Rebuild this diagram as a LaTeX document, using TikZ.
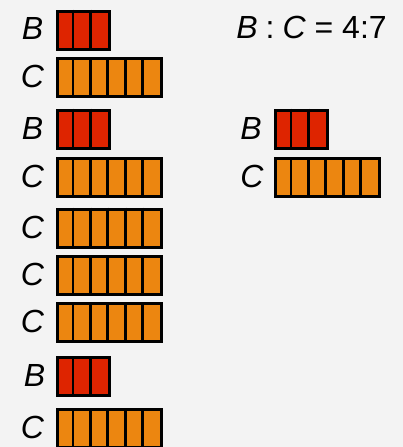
\documentclass[tikz,border=0pt]{standalone}
\usepackage{fontspec}
\setmainfont{Liberation Sans}
\usetikzlibrary{calc}
\definecolor{bg}{RGB}{243,243,243}
\definecolor{bred}{RGB}{222,36,0}
\definecolor{corange}{RGB}{236,134,16}
\tikzset{
  lab/.style={font=\fontsize{32}{32}\selectfont\itshape, inner sep=0pt},
  ratio/.style={font=\fontsize{32}{32}\selectfont, inner sep=0pt},
  outline/.style={line width=3.2pt, draw=black},
  divider/.style={line width=2.8pt, draw=black}
}
\newcommand{\cellrow}[5]{%
  % #1 name, #2 x left (outer), #3 y top (outer), #4 cells, #5 colour
  \pgfmathsetmacro{\bw}{#4*17.4}
  \pgfmathtruncatemacro{\nm}{#4-1}
  \node[outline, fill=#5, inner sep=0pt, minimum width=\bw pt, minimum height=38pt, anchor=north west] (#1) at (#2+1.6, #3+1.6) {};
  \foreach \k in {1,...,\nm} \draw[divider] ($(#1.north west)+(\k*17.4pt,0)$) -- ($(#1.south west)+(\k*17.4pt,0)$);
}
\begin{document}
\begin{tikzpicture}[x=1pt, y=-1pt]
\fill[bg] (0,0) rectangle (403,447);
\useasboundingbox (0,0) rectangle (403,447);
% left column
\cellrow{b1}{54}{8}{3}{bred}
\cellrow{c1}{54}{55.5}{6}{corange}
\cellrow{b2}{54}{107}{3}{bred}
\cellrow{c2}{54}{155.5}{6}{corange}
\cellrow{c3}{54}{206}{6}{corange}
\cellrow{c4}{54}{253.5}{6}{corange}
\cellrow{c5}{54}{300.5}{6}{corange}
\cellrow{b3}{54}{354.5}{3}{bred}
\cellrow{c6}{54}{406.5}{6}{corange}
\node[lab] (lb1) at (32.5,28.5) {B};
\node[lab] (lc1) at (32.5,76.5) {C};
\node[lab] (lb2) at (32.5,128) {B};
\node[lab] (lc2) at (32.5,176.5) {C};
\node[lab] (lc3) at (32.5,227) {C};
\node[lab] (lc4) at (32.5,274) {C};
\node[lab] (lc5) at (32.5,321) {C};
\node[lab] (lb3) at (34.5,375.5) {B};
\node[lab] (lc6) at (32.5,427.5) {C};
% right column
\cellrow{rb}{272}{107}{3}{bred}
\cellrow{rc}{272}{155.5}{6}{corange}
\node[lab] (lrb) at (251,128) {B};
\node[lab] (lrc) at (252,176.5) {C};
% ratio
\node[ratio] (ratio) at (311.5,27) {\textit{B}\kern8pt:\kern8pt\textit{C} = 4:7};
\end{tikzpicture}
\end{document}
